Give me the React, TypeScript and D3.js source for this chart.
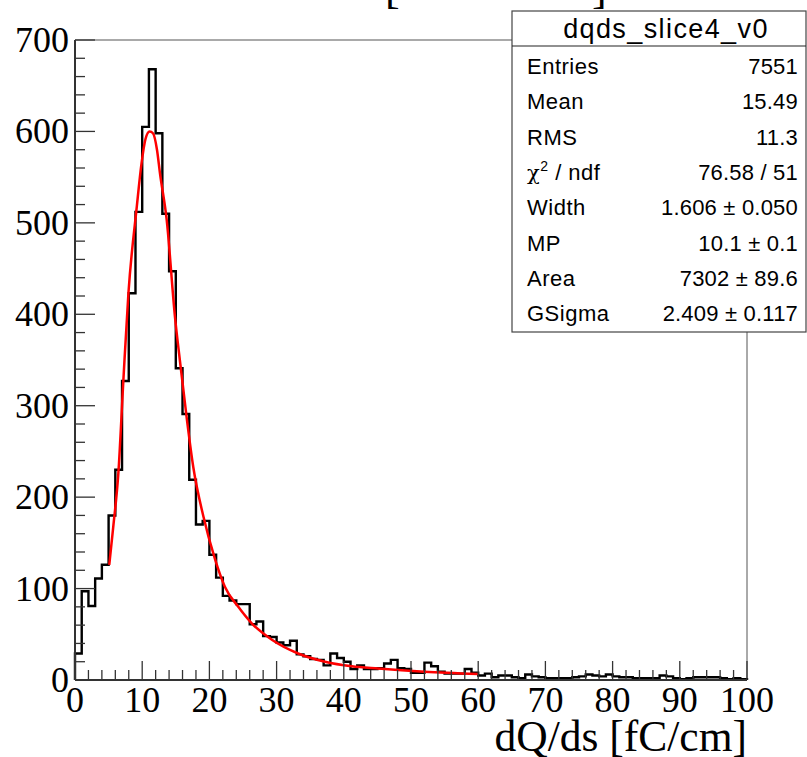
import React from "react";
import * as d3 from "d3";

// Histogram bin contents, 100 bins of width 1 from 0 to 100
const binCounts: number[] = [
  29, 97, 81, 111, 126, 180, 230, 327, 423, 512,
  605, 668, 598, 510, 447, 341, 291, 219, 170, 174,
  137, 112, 92, 87, 83, 83, 61, 64, 48, 47,
  41, 38, 43, 28, 26, 23, 22, 16, 29, 24,
  20, 12, 16, 12, 12, 13, 18, 22, 13, 12,
  8, 8, 19, 15, 9, 7, 7, 7, 12, 8,
  5, 7, 3, 5, 5, 3, 2, 6, 4, 3,
  2, 2, 2, 2, 3, 4, 6, 5, 4, 6,
  4, 3, 3, 2, 2, 2, 2, 5, 4, 2,
  1, 2, 3, 3, 3, 3, 2, 1, 2, 1,
];

// Fit curve (x, value)
const fitX: number[] = [5.1, 5.7, 6.45, 7.2, 7.95, 9.2, 9.9, 10.5, 11.1, 11.6, 12.2, 12.65, 13.65, 14.88, 15.6, 16.6, 17.6, 19.1, 20.8, 22.3, 24.3, 26.3, 29.3, 33.2, 37.2, 41.2, 45.1, 52, 60];
const fitY: number[] = [126, 168, 226, 328, 423, 518, 565, 592, 600, 598, 580, 554, 503, 397, 350, 288, 233, 179, 133, 102, 80, 62, 44, 29, 20, 15, 12.5, 9, 6.5];

const xTickLabels: number[] = [0, 10, 20, 30, 40, 50, 60, 70, 80, 90, 100];
const yTickLabels: number[] = [0, 100, 200, 300, 400, 500, 600, 700];

const statsTitle = "dqds_slice4_v0";
const statsLabels: string[] = ["Entries", "Mean", "RMS", "CHI2", "Width", "MP", "Area", "GSigma"];
const statsValues: string[] = ["7551", "15.49", "11.3", "76.58 / 51", "1.606 \u00b1 0.050", "10.1 \u00b1 0.1", "7302 \u00b1 89.6", "2.409 \u00b1 0.117"];

const xAxisTitle = "dQ/ds [fC/cm]";

export default function App() {
  const W = 807, H = 757;
  const x = d3.scaleLinear().domain([0, 100]).range([75, 747]);
  const y = d3.scaleLinear().domain([0, 700]).range([680, 40]);

  // histogram step path
  let p = `M${x(0)},${y(0)}`;
  binCounts.forEach((v, i) => {
    p += `L${x(i)},${y(v)}L${x(i + 1)},${y(v)}`;
  });
  p += `L${x(100)},${y(0)}`;

  const fitLine = d3
    .line<number>()
    .x((_, i) => x(fitX[i]))
    .y((d) => y(d))
    .curve(d3.curveMonotoneX);
  const fitPath = fitLine(fitY) || "";

  const xMinor = d3.range(0, 101, 2);
  const yMinor = d3.range(0, 701, 20);

  const serif = "'Liberation Serif', 'Times New Roman', serif";
  const sans = "'Liberation Sans', Arial, Helvetica, sans-serif";

  const boxL = 512, boxR = 806, boxT = 11, boxB = 332, headB = 46;
  const rowBase = (i: number) => 74 + i * 35.3;

  return (
    <svg width={W} height={H} style={{ position: "absolute", left: 0, top: 0, background: "#fff" }}>
      <rect x={0} y={0} width={W} height={H} fill="#fff" />
      {/* title (mostly cut off at the top edge) */}
      <text x={385} y={3} fontFamily={serif} fontSize={44} fill="#000">[</text>
      <text x={592} y={3} fontFamily={serif} fontSize={44} fill="#000">]</text>
      {/* frame */}
      <line x1={x(0)} y1={y(700)} x2={x(100)} y2={y(700)} stroke="#555" strokeWidth={1} />
      <line x1={x(100)} y1={y(700)} x2={x(100)} y2={y(0)} stroke="#555" strokeWidth={1} />
      {/* histogram */}
      <path d={p} fill="none" stroke="#000" strokeWidth={2.4} />
      {/* fit */}
      <path d={fitPath} fill="none" stroke="#ff0000" strokeWidth={2.5} />
      {/* x axis */}
      <line x1={x(0)} y1={y(0)} x2={x(100)} y2={y(0)} stroke="#333" strokeWidth={2} />
      {xMinor.map((t) => (
        <line key={"xm" + t} x1={x(t)} x2={x(t)} y1={y(0)} y2={y(0) - (t % 10 === 0 ? 19 : 10)} stroke="#333" strokeWidth={1.3} />
      ))}
      {xTickLabels.map((t) => (
        <text key={"xl" + t} x={x(t)} y={712} textAnchor="middle" fontFamily={serif} fontSize={36} fill="#000">{t}</text>
      ))}
      <text x={747} y={751} textAnchor="end" fontFamily={serif} fontSize={43.5} fill="#000">{xAxisTitle}</text>
      {/* y axis */}
      <line x1={x(0)} y1={y(0)} x2={x(0)} y2={y(700)} stroke="#333" strokeWidth={2} />
      {yMinor.map((t) => (
        <line key={"ym" + t} x1={x(0)} x2={x(0) + (t % 100 === 0 ? 20 : 10)} y1={y(t)} y2={y(t)} stroke="#333" strokeWidth={1.3} />
      ))}
      {yTickLabels.map((t) => (
        <text key={"yl" + t} x={69} y={y(t) + 12} textAnchor="end" fontFamily={serif} fontSize={36} fill="#000">{t}</text>
      ))}
      {/* stats box */}
      <rect x={boxL} y={boxT} width={boxR - boxL} height={boxB - boxT} fill="#fff" stroke="#444" strokeWidth={1.2} />
      <line x1={boxL} x2={boxR} y1={headB} y2={headB} stroke="#222" strokeWidth={1.2} />
      <text x={(boxL + boxR) / 2 + 7} y={38} textAnchor="middle" fontFamily={sans} fontSize={27} letterSpacing={1.4} fill="#000">{statsTitle}</text>
      {statsLabels.map((lab, i) => (
        <g key={"s" + i}>
          <text x={527} y={rowBase(i)} fontFamily={sans} fontSize={22} letterSpacing={0.5} fill="#000">
            {lab === "CHI2" ? (
              <>
                <tspan fontFamily="'DejaVu Serif', serif" fontSize={21}>{"\u03c7"}</tspan>
                <tspan fontSize={14} dy={-9}>2</tspan>
                <tspan dy={9}>{" / ndf"}</tspan>
              </>
            ) : (
              lab
            )}
          </text>
          <text x={798} y={rowBase(i)} textAnchor="end" fontFamily={sans} fontSize={22} letterSpacing={0.2} fill="#000">{statsValues[i]}</text>
        </g>
      ))}
    </svg>
  );
}
